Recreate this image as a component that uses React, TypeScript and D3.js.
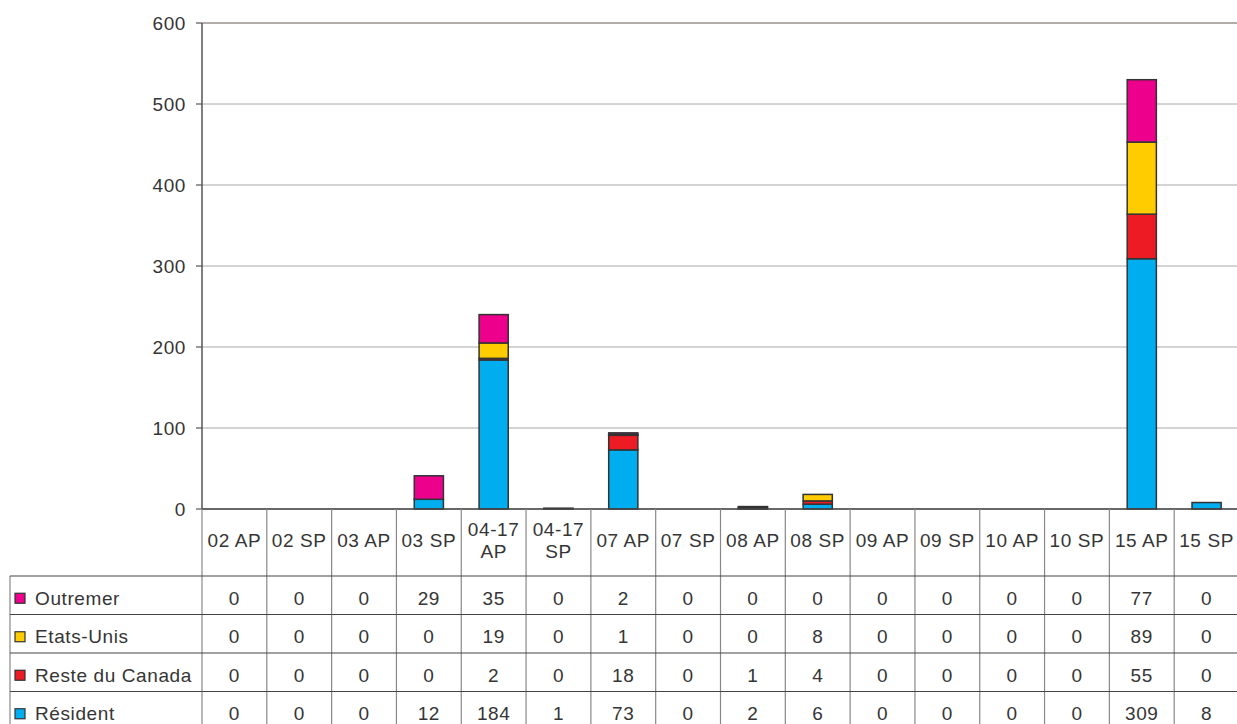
import React from "react";
import * as d3 from "d3";

const categories = ["02 AP","02 SP","03 AP","03 SP","04-17 AP","04-17 SP","07 AP","07 SP","08 AP","08 SP","09 AP","09 SP","10 AP","10 SP","15 AP","15 SP"];
const resident = [0,0,0,12,184,1,73,0,2,6,0,0,0,0,309,8];
const resteCanada = [0,0,0,0,2,0,18,0,1,4,0,0,0,0,55,0];
const etatsUnis = [0,0,0,0,19,0,1,0,0,8,0,0,0,0,89,0];
const outremer = [0,0,0,29,35,0,2,0,0,0,0,0,0,0,77,0];
const yTicks = [0,100,200,300,400,500,600];

const seriesNames = ["Résident","Reste du Canada","Etats-Unis","Outremer"];
const seriesColors = ["#00AEEF","#ED1C24","#FFCC00","#EC008C"];
const seriesValues = [resident, resteCanada, etatsUnis, outremer];

export default function App() {
  const W = 1237, H = 724;
  const left = 202, right = 1239, top = 23, bottom = 509;
  const x = d3.scaleBand().domain(categories).range([left, right]).paddingInner(0).paddingOuter(0);
  const y = d3.scaleLinear().domain([0, 600]).range([bottom, top]);
  const bw = x.bandwidth() * 0.45;

  const table = categories.map((c, i) => {
    const o: any = { cat: c };
    seriesNames.forEach((s, k) => (o[s] = seriesValues[k][i]));
    return o;
  });
  const stacked = d3.stack().keys(seriesNames)(table as any);

  const headerBottom = 576;
  const rowH = 38.5;
  const tableRows = [...seriesNames].reverse();
  const rowColorsRev = [...seriesColors].reverse();
  const rowVals = [...seriesValues].reverse();
  const font = "Liberation Sans, Arial, sans-serif";
  const txt = "#353535";
  const fs = 19;
  const ls = 0.6;

  return (
    <svg width={W} height={H} style={{ position: "absolute", left: 0, top: 0, background: "#fff" }} fontFamily={font} letterSpacing={ls}>
      {yTicks.map((t) => (
        <line key={"g" + t} x1={left} x2={W} y1={y(t)} y2={y(t)} stroke={t === 600 ? "#9a908c" : "#a8a8a8"} strokeWidth={t === 600 ? 1.5 : 1} />
      ))}
      <line x1={left} x2={left} y1={top} y2={bottom} stroke="#555" strokeWidth={1.5} />
      {yTicks.map((t) => (
        <g key={"t" + t}>
          <line x1={left - 6} x2={left} y1={y(t)} y2={y(t)} stroke="#555" strokeWidth={1.2} />
          <text x={left - 16} y={y(t)} dy="0.35em" textAnchor="end" fontSize={fs} fill={txt}>{t}</text>
        </g>
      ))}
      {stacked.map((layer, k) => (
        <g key={"l" + k}>
          {layer.map((d: any, i: number) => {
            const h = y(d[0]) - y(d[1]);
            if (d[1] - d[0] <= 0) return null;
            return (
              <rect key={i} x={(x(categories[i]) as number) + (x.bandwidth() - bw) / 2} y={y(d[1])} width={bw} height={h}
                fill={seriesColors[k]} stroke="#333" strokeWidth={1.5} />
            );
          })}
        </g>
      ))}
      <line x1={left} x2={W} y1={bottom} y2={bottom} stroke="#444" strokeWidth={1.5} />
      {categories.map((c) => {
        const cx = (x(c) as number) + x.bandwidth() / 2;
        const parts = c.startsWith("04-17") ? ["04-17", c.split(" ")[1]] : [c];
        return parts.length === 1 ? (
          <text key={"h" + c} x={cx} y={540} dy="0.35em" textAnchor="middle" fontSize={fs} fill={txt}>{c}</text>
        ) : (
          <g key={"h" + c}>
            <text x={cx} y={529} dy="0.35em" textAnchor="middle" fontSize={fs} fill={txt}>{parts[0]}</text>
            <text x={cx} y={551} dy="0.35em" textAnchor="middle" fontSize={fs} fill={txt}>{parts[1]}</text>
          </g>
        );
      })}
      {categories.map((c) => (
        <line key={"v" + c} x1={x(c) as number} x2={x(c) as number} y1={bottom} y2={H} stroke="#888" strokeWidth={1.2} />
      ))}
      <line x1={10} x2={10} y1={headerBottom} y2={H} stroke="#888" strokeWidth={1.2} />
      {[0, 1, 2, 3].map((r) => (
        <line key={"hl" + r} x1={10} x2={W} y1={headerBottom + r * rowH} y2={headerBottom + r * rowH} stroke="#444" strokeWidth={1.2} />
      ))}
      {tableRows.map((name, r) => {
        const cy = headerBottom + r * rowH + rowH / 2 + 3;
        return (
          <g key={"r" + name}>
            <rect x={15} y={cy - 5} width={10} height={10} fill={rowColorsRev[r]} stroke="#333" strokeWidth={1.2} />
            <text x={35} y={cy} dy="0.35em" fontSize={fs} fill={txt}>{name}</text>
            {categories.map((c, i) => (
              <text key={c} x={(x(c) as number) + x.bandwidth() / 2} y={cy} dy="0.35em" textAnchor="middle" fontSize={fs} fill={txt}>
                {rowVals[r][i]}
              </text>
            ))}
          </g>
        );
      })}
    </svg>
  );
}
